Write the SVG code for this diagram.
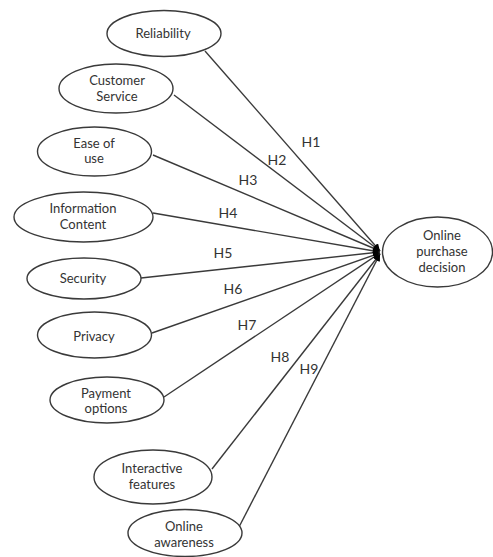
<svg xmlns="http://www.w3.org/2000/svg" width="493" height="557" viewBox="0 0 493 557">
<defs>
<style>
.node ellipse{fill:#fff;stroke:#3a3a3a;stroke-width:1.4}
.node text{font-family:"Lato","Liberation Sans",sans-serif;font-size:13px;fill:#333;text-anchor:middle}
.conn line{stroke:#3a3a3a;stroke-width:1.4;marker-end:url(#ah)}
.lbl{font-family:"Lato","Liberation Sans",sans-serif;font-size:14px;fill:#333;text-anchor:middle}
</style>
<marker id="ah" viewBox="0 0 10 10" refX="10" refY="5" markerWidth="5" markerHeight="5" orient="auto" markerUnits="strokeWidth">
<path d="M0,0 L10,5 L0,10 z" fill="#000"/>
</marker>
</defs>
<rect width="493" height="557" fill="#fff"/>
<g id="connectors" class="conn">
<line x1="205" y1="51" x2="380" y2="251"/>
<line x1="174" y1="95" x2="380" y2="251"/>
<line x1="153" y1="155" x2="380" y2="251"/>
<line x1="153" y1="213" x2="380" y2="252"/>
<line x1="141" y1="278" x2="380" y2="252"/>
<line x1="152" y1="333" x2="380" y2="253"/>
<line x1="164" y1="397" x2="380" y2="253"/>
<line x1="212" y1="469" x2="380" y2="254"/>
<line x1="239" y1="527" x2="380" y2="254"/>
</g>
<g id="labels">
<text class="lbl" x="311" y="147">H1</text>
<text class="lbl" x="277" y="165">H2</text>
<text class="lbl" x="248" y="185">H3</text>
<text class="lbl" x="228" y="218">H4</text>
<text class="lbl" x="223" y="258">H5</text>
<text class="lbl" x="233" y="294">H6</text>
<text class="lbl" x="247" y="330">H7</text>
<text class="lbl" x="280" y="362">H8</text>
<text class="lbl" x="309" y="374">H9</text>
</g>
<g id="reliability" class="node"><ellipse cx="164" cy="33.5" rx="57" ry="23"/><text x="163" y="38">Reliability</text></g>
<g id="customer-service" class="node"><ellipse cx="116" cy="88.5" rx="57" ry="24.5"/><text x="117" y="84.5">Customer</text><text x="117" y="101">Service</text></g>
<g id="ease-of-use" class="node"><ellipse cx="94.5" cy="151.5" rx="57" ry="24.5"/><text x="94" y="147.5">Ease of</text><text x="94" y="163">use</text></g>
<g id="information-content" class="node"><ellipse cx="83.5" cy="217" rx="69.5" ry="25"/><text x="83" y="212.5">Information</text><text x="83" y="228.5">Content</text></g>
<g id="security" class="node"><ellipse cx="84" cy="278.5" rx="57" ry="20.5"/><text x="83" y="283">Security</text></g>
<g id="privacy" class="node"><ellipse cx="94.5" cy="335" rx="57" ry="23"/><text x="94" y="340.5">Privacy</text></g>
<g id="payment-options" class="node"><ellipse cx="107" cy="400" rx="57" ry="23"/><text x="106" y="397.5">Payment</text><text x="106" y="412.5">options</text></g>
<g id="interactive-features" class="node"><ellipse cx="153" cy="477" rx="59" ry="27"/><text x="152" y="472.5">Interactive</text><text x="152" y="488.5">features</text></g>
<g id="online-awareness" class="node"><ellipse cx="185" cy="533" rx="57" ry="23.5"/><text x="184" y="530.5">Online</text><text x="184" y="546.5">awareness</text></g>
<g id="online-purchase-decision" class="node"><ellipse cx="437.5" cy="252" rx="55" ry="35"/><text x="442" y="239.5">Online</text><text x="442" y="255.5">purchase</text><text x="442" y="271.5">decision</text></g>
</svg>
